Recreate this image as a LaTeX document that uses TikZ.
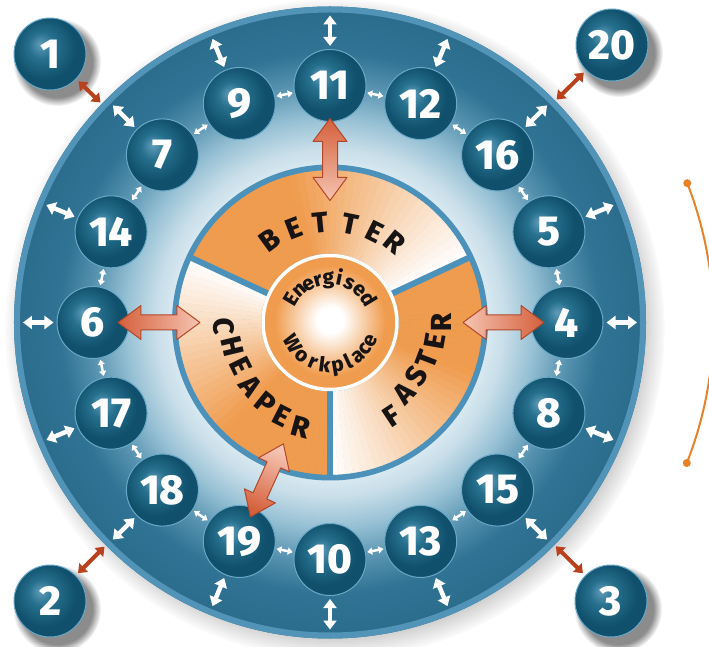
\documentclass[tikz,border=0pt]{standalone}
\usepackage{fontspec}
\setmainfont{Fira Sans}[BoldFont={Fira Sans ExtraBold}]
\usetikzlibrary{calc,arrows.meta,fadings}

\definecolor{secor}{RGB}{240,156,78}
\definecolor{ringblue}{RGB}{75,145,185}
\definecolor{discpale}{RGB}{215,232,240}
\definecolor{discA}{RGB}{200,222,233}
\definecolor{discB}{RGB}{150,192,212}
\definecolor{discC}{RGB}{85,145,175}
\definecolor{discD}{RGB}{48,115,148}
\definecolor{discE}{RGB}{43,108,140}
\definecolor{discrim}{RGB}{82,148,184}
\definecolor{sphL}{RGB}{96,156,186}
\definecolor{sphM}{RGB}{38,112,142}
\definecolor{sphD}{RGB}{16,80,108}
\definecolor{sphrim}{RGB}{105,168,198}
\definecolor{redar}{RGB}{185,65,30}
\definecolor{arrdark}{RGB}{212,96,60}
\definecolor{arrlight}{RGB}{246,196,178}
\definecolor{arrline}{RGB}{178,72,42}
\definecolor{arcorange}{RGB}{232,130,40}
\definecolor{txt}{RGB}{25,20,20}

\pgfdeclareradialshading{discshade}{\pgfpointorigin}{color(0bp)=(discpale); color(12.5bp)=(discpale); color(13.8bp)=(discA); color(16.2bp)=(discB); color(19bp)=(discC); color(21.4bp)=(discD); color(25bp)=(discE); color(50bp)=(discE)}
\pgfdeclareradialshading{sphereshade}{\pgfpoint{-7bp}{7bp}}{color(0bp)=(sphL); color(9bp)=(sphM); color(22bp)=(sphD); color(34bp)=(sphD); color(50bp)=(sphD)}
\pgfdeclareradialshading{coreshade}{\pgfpoint{0bp}{1bp}}{color(0bp)=(white); color(5bp)=(white); color(21bp)=(secor); color(50bp)=(secor)}

\newcommand{\fatarrow}[3]{%
  \shade[draw=arrline, line width=1pt, line join=round, top color=arrdark, bottom color=arrlight, shading angle=#3]
  (#1) -- ($(#1)!23pt!(#2)!17pt!90:(#2)$) -- ($(#1)!23pt!(#2)!7.5pt!90:(#2)$)
  -- ($(#2)!23pt!(#1)!7.5pt!-90:(#1)$) -- ($(#2)!23pt!(#1)!17pt!-90:(#1)$) -- (#2)
  -- ($(#2)!23pt!(#1)!17pt!90:(#1)$) -- ($(#2)!23pt!(#1)!7.5pt!90:(#1)$)
  -- ($(#1)!23pt!(#2)!7.5pt!-90:(#2)$) -- ($(#1)!23pt!(#2)!17pt!-90:(#2)$) -- cycle;}

\tikzset{
  ball/.style={circle, minimum size=72pt, inner sep=0pt, shade, shading=sphereshade, draw=sphrim, line width=1pt, text=white, font=\bfseries\fontsize{42}{42}\selectfont},
  wout/.style={white, line width=4.5pt, {Triangle[width=13pt,length=9pt]}-{Triangle[width=13pt,length=9pt]}, shorten <=3pt},
  wtan/.style={white, line width=2.5pt, {Triangle[width=7pt,length=5pt]}-{Triangle[width=7pt,length=5pt]}, shorten <=1.5pt, shorten >=1.5pt},
  redarr/.style={redar, line width=4pt, {Triangle[width=12pt,length=8pt]}-{Triangle[width=12pt,length=8pt]}, shorten <=3pt},
  wordchar/.style={inner sep=0pt, text=txt, font=\bfseries\fontsize{29}{29}\selectfont},
  corechar/.style={inner sep=0pt, anchor=base, text=txt, font=\bfseries\fontsize{20.5}{20.5}\selectfont},
  shadowfill/.style={black, opacity=0.45, path fading=circle with fuzzy edge 20 percent},
}

\begin{document}
\begin{tikzpicture}[x=1pt,y=1pt]
\fill[white] (-330,-324.5) rectangle (379,322.5);
\useasboundingbox (-330,-324.5) rectangle (379,322.5);
\coordinate (O) at (0,0);

% disc shadow and disc
\fill[black, opacity=0.4, path fading=circle with fuzzy edge 15 percent] (5,-6) circle (330);
\shade[shading=discshade] (O) circle (316);
\draw[discrim, line width=6pt] (O) circle (313);

% orange ring
\fill[ringblue] (O) circle (158);
\foreach \a/\b in {155/25,25/-90,270/155}{
  \foreach \i in {0,...,39}{
    \pgfmathsetmacro{\s}{\a-(\a-\b)*\i/40}
    \pgfmathsetmacro{\e}{\a-(\a-\b)*(\i+1)/40}
    \pgfmathsetmacro{\p}{min(100,max(0,100*(1-(\i+0.5)/40)/0.62))}
    \fill[secor!\p!white, draw=secor!\p!white, line width=0.4pt]
      (\s:69) arc[start angle=\s, end angle=\e, radius=69] -- (\e:152)
      arc[start angle=\e, end angle=\s, radius=152] -- cycle;
  }
}
\foreach \t in {155,25,270} \draw[ringblue, line width=6pt] (\t:66) -- (\t:155);

% core
\shade[shading=coreshade] (O) circle (66);
\draw[white, line width=3.5pt] (O) circle (67);

% words
\foreach \ch/\ang/\r [count=\k] in {B/126/102, E/111/101, T/95.5/100, T/78.5/100, E/63.5/101, R/51/103}
  \node[wordchar, rotate=\ang-90] (bt\k) at (\ang:\r) {\ch};
\foreach \ch/\ang/\r [count=\k] in {F/-56.6/112, A/-43.6/103, S/-31.8/102, T/-20.9/104, E/-10/107, R/0/111}
  \node[wordchar, rotate=\ang+90] (fa\k) at (\ang:\r) {\ch};
\foreach \ch/\ang/\r [count=\k] in {C/182/106, H/193.6/100, E/206/99.4, A/218.8/101.7, P/231.3/103, E/243/105, R/254.5/109}
  \node[wordchar, rotate=\ang+90] (ch\k) at (\ang:\r) {\ch};

\foreach \ch/\ang [count=\k] in {E/149, n/133, e/119, r/106, g/92, i/78, s/63, e/47, d/31}
  \node[corechar, rotate=\ang-90] (en\k) at (\ang:38) {\ch};
\foreach \ch/\ang [count=\k] in {W/210, o/230, r/247, k/263, p/280, l/295, a/309, c/323, e/336}
  \node[corechar, rotate=\ang+90] (wp\k) at (\ang:50) {\ch};

% ring spheres
\foreach \n/\a in {11/90, 9/112.5, 7/135, 14/157.5, 6/180, 17/202.5, 18/225, 19/247.5, 10/270, 13/292.5, 15/315, 8/337.5, 4/0, 5/22.5, 16/45, 12/67.5}{
  \node[ball] (s\n) at (\a:237) {\n};
  \coordinate (e\n) at (\a:307);
  \draw[wout] (s\n) -- (e\n);
}
\foreach \p/\q in {11/9, 9/7, 7/14, 14/6, 6/17, 17/18, 18/19, 19/10, 10/13, 13/15, 15/8, 8/4, 4/5, 5/16, 16/12, 12/11}
  \draw[wtan] (s\p) -- (s\q);

% outer spheres
\foreach \n/\x/\y in {1/-280/268.5, 20/282/277.5, 2/-280/-278.5, 3/281/-278.5}{
  \coordinate (p\n) at (\x,\y);
  \fill[shadowfill] ($(p\n)+(7,-8)$) circle (44);
  \node[ball] (s\n) at (p\n) {\n};
  \coordinate (r\n) at ($(O)!318pt!(p\n)$);
  \draw[redarr] (s\n) -- (r\n);
}

% fat arrows
\coordinate (b11) at (90:122);
\coordinate (t11) at ($(s11)!33pt!(O)$);
\coordinate (b6) at (180:130);
\coordinate (t6) at ($(s6)!25pt!(O)$);
\coordinate (b4) at (0:133);
\coordinate (t4) at ($(s4)!23pt!(O)$);
\coordinate (b19) at (249:130);
\coordinate (t19) at ($(s19)!27pt!(b19)$);
\fatarrow{t11}{b11}{0}
\fatarrow{t6}{b6}{90}
\fatarrow{t4}{b4}{-90}
\fatarrow{t19}{b19}{158.5}

% orange arc
\coordinate (arcT) at (21.3:383.5);
\coordinate (arcB) at (-21.5:383.5);
\draw[arcorange, line width=2pt] (arcB) arc[start angle=-21.5, end angle=21.3, radius=383.5];
\fill[arcorange] (arcT) circle (4);
\fill[arcorange] (arcB) circle (4);
\end{tikzpicture}
\end{document}
